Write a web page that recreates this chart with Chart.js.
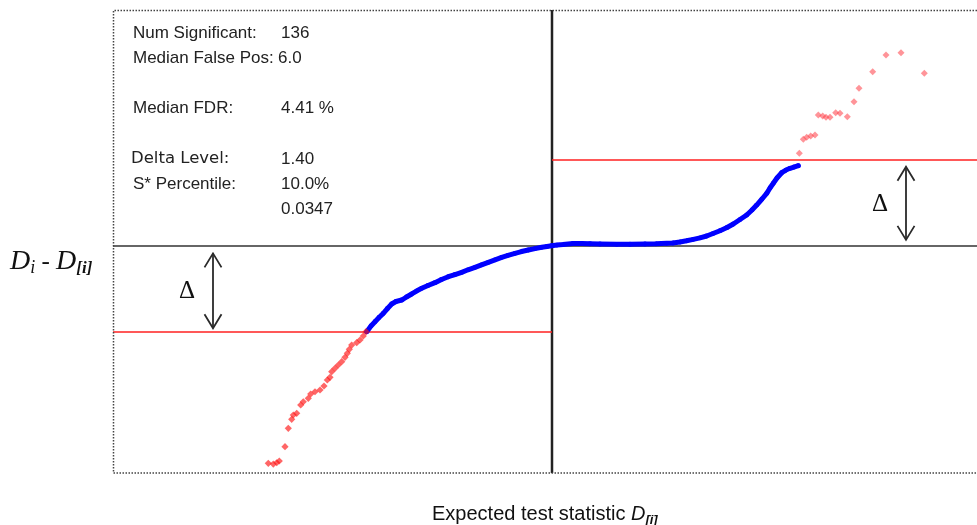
<!DOCTYPE html>
<html><head><meta charset="utf-8">
<script src="https://cdn.jsdelivr.net/npm/chart.js@4"></script>
<style>html,body{margin:0;padding:0;background:#fff}canvas{display:block}</style>
</head><body>
<canvas id="c" width="977" height="525"></canvas>
<script>
// ---- data (expected statistic D[i] on x, Di - D[i] on y) ----
const blueX = [-1.853,-1.81,-1.77,-1.73,-1.687,-1.645,-1.603,-1.56,-1.503,-1.455,-1.403,-1.355,-1.303,-1.24,-1.17,-1.105,-1.037,-0.97,-0.903,-0.84,-0.77,-0.705,-0.637,-0.57,-0.503,-0.44,-0.37,-0.305,-0.237,-0.17,-0.103,-0.05,-0.003,0.05,0.11,0.21,0.30,0.38,0.48,0.647,0.78,0.93,1.04,1.147,1.21,1.28,1.345,1.413,1.48,1.547,1.61,1.68,1.75,1.813,1.88,1.947,2.00,2.047,2.10,2.147,2.18,2.213,2.25,2.297,2.34,2.38,2.42,2.463];
const blueY = [-1.395,-1.302,-1.232,-1.164,-1.096,-1.017,-0.944,-0.903,-0.879,-0.830,-0.781,-0.733,-0.689,-0.643,-0.597,-0.545,-0.500,-0.464,-0.428,-0.387,-0.347,-0.306,-0.265,-0.225,-0.184,-0.151,-0.119,-0.090,-0.065,-0.042,-0.021,-0.008,0.005,0.016,0.024,0.041,0.039,0.037,0.033,0.028,0.029,0.033,0.036,0.044,0.049,0.065,0.085,0.109,0.133,0.163,0.203,0.249,0.301,0.358,0.431,0.505,0.586,0.667,0.765,0.858,0.944,1.021,1.107,1.193,1.237,1.265,1.286,1.307];
const redLowX = [-1.86,-1.887,-1.92,-1.953,-2.003,-2.027,-2.047,-2.07,-2.103,-2.137,-2.17,-2.203,-2.22,-2.247,-2.28,-2.32,-2.37,-2.413,-2.437,-2.487,-2.513,-2.553,-2.587,-2.603,-2.637,-2.67,-2.727,-2.753,-2.787,-2.837];
const redLowY = [-1.395,-1.465,-1.530,-1.574,-1.612,-1.682,-1.747,-1.812,-1.883,-1.937,-1.991,-2.046,-2.137,-2.181,-2.279,-2.344,-2.372,-2.409,-2.479,-2.535,-2.588,-2.723,-2.751,-2.821,-2.968,-3.267,-3.500,-3.528,-3.549,-3.537];
const redHighX = [2.473,2.513,2.547,2.587,2.63,2.663,2.707,2.74,2.78,2.837,2.88,2.953,3.02,3.07,3.207,3.34,3.49,3.723];
const redHighY = [1.509,1.737,1.769,1.791,1.807,2.133,2.116,2.095,2.095,2.170,2.160,2.105,2.349,2.567,2.837,3.109,3.147,2.811];
const statLabels = ["Num Significant:","Median False Pos:","Median FDR:","Delta Level:","S* Percentile:",""];
const statValues = ["136","6.0","4.41 %","1.40","10.0%","0.0347"];
const DELTA = 1.40;
const X_RANGE = [-4.39, 4.25];
const Y_RANGE = [-3.695, 3.842];
// delta arrows: [x, yFrom, yTo]
const arrowLow = [-3.39, -0.12, -1.34];
const arrowHigh = [3.54, 0.10, 1.29];

const pts = (xs, ys) => xs.map((v, i) => ({x: v, y: ys[i]}));

const overlay = {
  id: 'overlay',
  afterDatasetsDraw(chart) {
    const {ctx, chartArea: a, scales: {x, y}} = chart;
    ctx.save();
    // dotted frame (top, left, bottom)
    ctx.strokeStyle = '#444'; ctx.lineWidth = 1.5; ctx.setLineDash([1.5, 1.5]);
    ctx.beginPath();
    ctx.moveTo(a.right, a.top + 0.5); ctx.lineTo(a.left + 0.5, a.top + 0.5);
    ctx.lineTo(a.left + 0.5, a.bottom); ctx.lineTo(a.right, a.bottom);
    ctx.stroke();
    ctx.setLineDash([]);
    // double arrows
    const arrow = (ar) => {
      const px = x.getPixelForValue(ar[0]);
      const p1 = y.getPixelForValue(ar[1]);
      const p2 = y.getPixelForValue(ar[2]);
      const top = Math.min(p1, p2), bot = Math.max(p1, p2);
      ctx.strokeStyle = '#2a2a2a'; ctx.lineWidth = 1.8;
      ctx.beginPath(); ctx.moveTo(px, top); ctx.lineTo(px, bot); ctx.stroke();
      ctx.beginPath();
      ctx.moveTo(px - 8.5, top + 14); ctx.lineTo(px, top); ctx.lineTo(px + 8.5, top + 14);
      ctx.moveTo(px - 8.5, bot - 14); ctx.lineTo(px, bot); ctx.lineTo(px + 8.5, bot - 14);
      ctx.stroke();
      ctx.fillStyle = '#111';
      ctx.font = '25px "Liberation Serif", serif';
      ctx.textAlign = 'center'; ctx.textBaseline = 'middle';
      ctx.fillText('\u0394', px - 26, (top + bot) / 2 + 1);
    };
    arrow(arrowLow); arrow(arrowHigh);
    // stats text
    const rowsY = [33, 58, 108, 159, 184, 209];
    ctx.fillStyle = '#222'; ctx.textAlign = 'left'; ctx.textBaseline = 'middle';
    statLabels.forEach((t, i) => {
      ctx.font = (i === 3 ? '16.5px "DejaVu Sans"' : '17px "Liberation Sans", Arial');
      ctx.fillText(t, i === 3 ? 131 : 133, rowsY[i]);
      ctx.font = '17px "Liberation Sans", Arial';
      ctx.fillText(statValues[i], i === 1 ? 278 : 281, rowsY[i]);
    });
    // y label: Di - D[i]
    ctx.fillStyle = '#111'; ctx.textBaseline = 'alphabetic';
    let cx = 10; const by = 269;
    const put = (t, f, dy) => { ctx.font = f; ctx.fillText(t, cx, by + dy); cx += ctx.measureText(t).width; };
    put('D', 'italic 28px "Liberation Serif", serif', 0);
    put('i', 'italic 18px "Liberation Serif", serif', 4);
    put(' - ', 'italic 25px "Liberation Serif", serif', 0);
    put('D', 'italic 28px "Liberation Serif", serif', 0);
    put('[i]', 'italic bold 17px "Liberation Serif", serif', 4);
    // x label
    cx = 432; const bx = 520;
    const putx = (t, f, dy) => { ctx.font = f; ctx.fillText(t, cx, bx + dy); cx += ctx.measureText(t).width; };
    putx('Expected test statistic ', '20px "Liberation Sans", Arial', 0);
    putx('D', 'italic 20px "Liberation Sans", Arial', 0);
    putx('[i]', 'italic bold 13px "Liberation Sans", Arial', 4);
    ctx.restore();
  }
};

new Chart(document.getElementById('c'), {
  type: 'scatter',
  data: {
    datasets: [
      {data: pts(redHighX, redHighY), pointStyle: 'rectRot', pointRadius: 3.5, backgroundColor: 'rgba(255,60,70,0.55)', borderWidth: 0, order: 1},
      {data: pts(redLowX, redLowY), pointStyle: 'rectRot', pointRadius: 3.6, backgroundColor: 'rgba(255,20,20,0.65)', borderWidth: 0, order: 1},
      {type: 'line', data: pts(blueX, blueY), borderColor: '#0000ff', borderWidth: 5, borderJoinStyle: 'round', borderCapStyle: 'round', pointRadius: 2.4, pointBackgroundColor: '#0000ff', pointBorderWidth: 0, tension: 0, order: 2},
      {type: 'line', data: [{x: 0, y: DELTA}, {x: X_RANGE[1], y: DELTA}], borderColor: '#ff2020', borderWidth: 1.5, pointRadius: 0, order: 3},
      {type: 'line', data: [{x: X_RANGE[0], y: -DELTA}, {x: 0, y: -DELTA}], borderColor: '#ff2020', borderWidth: 1.5, pointRadius: 0, order: 3},
      {type: 'line', data: [{x: X_RANGE[0], y: 0}, {x: X_RANGE[1], y: 0}], borderColor: '#333', borderWidth: 1.5, pointRadius: 0, order: 4},
      {type: 'line', data: [{x: 0, y: Y_RANGE[0]}, {x: 0, y: Y_RANGE[1]}], borderColor: '#222', borderWidth: 2.5, pointRadius: 0, order: 4}
    ]
  },
  options: {
    responsive: false, animation: false, devicePixelRatio: 1,
    layout: {autoPadding: false, padding: {left: 113, top: 10, right: 0, bottom: 52}},
    scales: {
      x: {type: 'linear', min: X_RANGE[0], max: X_RANGE[1], display: false},
      y: {type: 'linear', min: Y_RANGE[0], max: Y_RANGE[1], display: false}
    },
    plugins: {legend: {display: false}, tooltip: {enabled: false}},
    events: []
  },
  plugins: [overlay]
});
</script>
</body></html>
